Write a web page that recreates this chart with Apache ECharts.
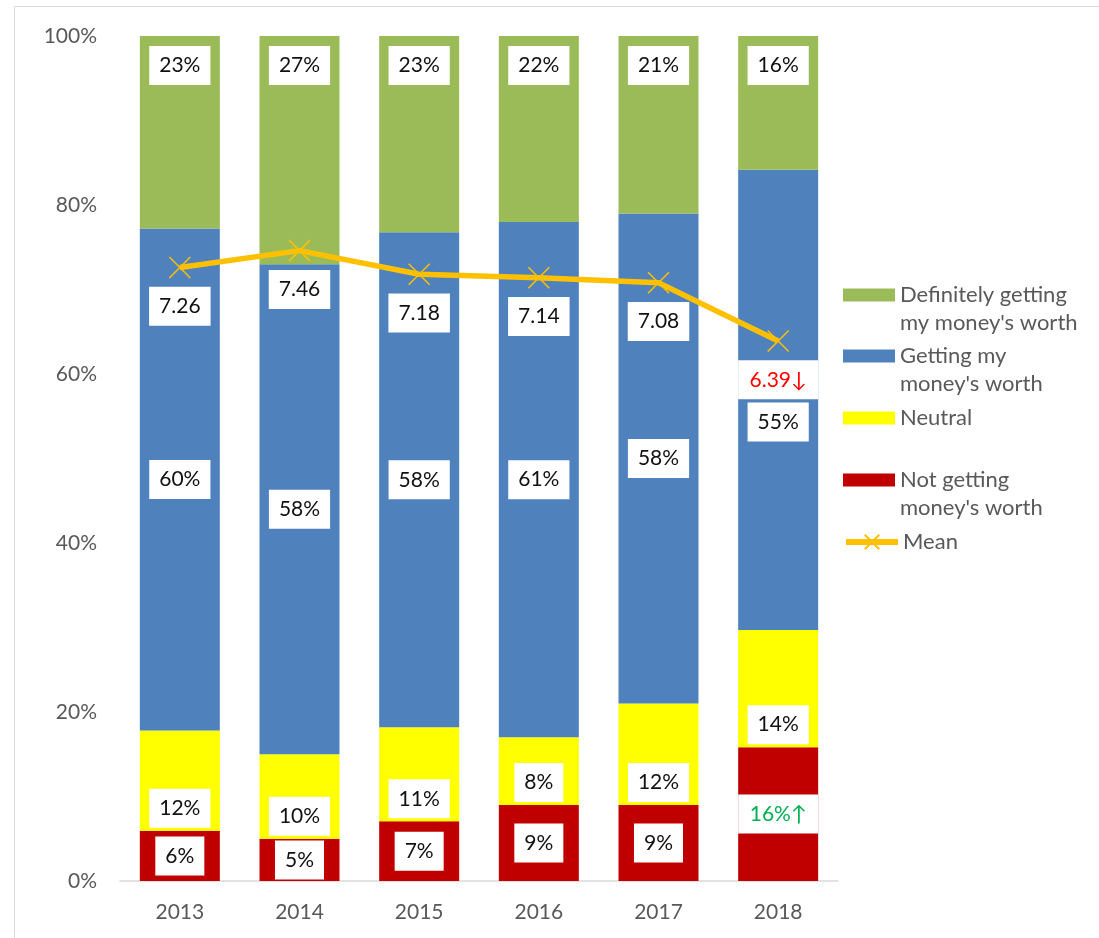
<!DOCTYPE html>
<html>
<head>
<meta charset="utf-8">
<script src="https://cdn.jsdelivr.net/npm/echarts@6/dist/echarts.min.js"></script>
<style>
  html, body { margin: 0; padding: 0; background: #ffffff; }
  #chart { width: 1099px; height: 938px; }
</style>
</head>
<body>
<div id="chart"></div>
<script>
// Survey years
const years = ['2013', '2014', '2015', '2016', '2017', '2018'];

// Share of respondents (%) per answer, as printed on the bars
const notGetting = [6, 5, 7, 9, 9, 16];
const neutral = [12, 10, 11, 8, 12, 14];
const getting = [60, 58, 58, 61, 58, 55];
const definitely = [23, 27, 23, 22, 21, 16];

// Mean value-for-money score (0-10 scale)
const meanScore = [7.26, 7.46, 7.18, 7.14, 7.08, 6.39];

// Significant change against the previous year: 1 = up, -1 = down, 0 = none
const meanChange = [0, 0, 0, 0, 0, -1];
const notGettingChange = [0, 0, 0, 0, 0, 1];

// Value-axis ticks
const yTickValues = [0, 20, 40, 60, 80, 100];

const names = {
  definitely: "Definitely getting my money's worth",
  getting: "Getting my money's worth",
  neutral: 'Neutral',
  notGetting: "Not getting money's worth",
  mean: 'Mean'
};
const legendText = {};
legendText[names.definitely] = "Definitely getting\nmy money's worth";
legendText[names.getting] = "Getting my\nmoney's worth";
legendText[names.neutral] = 'Neutral';
legendText[names.notGetting] = "Not getting\nmoney's worth";
legendText[names.mean] = 'Mean';

const FONT = 'Lato, "Open Sans", sans-serif';
const COLORS = {
  definitely: '#9BBB59',
  getting: '#4F81BD',
  neutral: '#FFFF00',
  notGetting: '#C00000',
  mean: '#FFC000'
};
const UP = '#00B050';
const DOWN = '#FF0000';
const ARROW_UP = '\u2191';
const ARROW_DOWN = '\u2193';

// Totals per year, so each column fills 100%
const totals = years.map((_, i) => notGetting[i] + neutral[i] + getting[i] + definitely[i]);
const toShare = (arr) => arr.map((v, i) => v / totals[i] * 100);

const BAR_WIDTH = 80;
const LABEL_PAD_X = 10;
const labelBox = {
  show: true,
  color: '#111111',
  backgroundColor: '#ffffff',
  padding: [7, LABEL_PAD_X, 7, LABEL_PAD_X],
  fontSize: 21,
  lineHeight: 25,
  fontFamily: FONT
};

function barSeries(name, raw, color, labelExtra, itemLabel) {
  return {
    name: name,
    type: 'bar',
    stack: 'share',
    barWidth: BAR_WIDTH,
    itemStyle: { color: color },
    label: Object.assign({}, labelBox, {
      formatter: (p) => {
        const i = p.dataIndex;
        let s = raw[i] + '%';
        if (name === names.notGetting && notGettingChange[i] > 0) s += ARROW_UP;
        if (name === names.notGetting && notGettingChange[i] < 0) s += ARROW_DOWN;
        return s;
      }
    }, labelExtra),
    emphasis: { disabled: true },
    data: toShare(raw).map((v, i) => {
      const lab = itemLabel ? itemLabel(i) : null;
      return lab ? { value: v, label: lab } : v;
    })
  };
}

// Highlighted labels fill the full column width
const flagLabel = (color) => ({
  color: color,
  width: BAR_WIDTH - 2 * LABEL_PAD_X,
  align: 'center'
});

const series = [
  barSeries(names.notGetting, notGetting, COLORS.notGetting, { position: 'inside' },
    (i) => notGettingChange[i] > 0 ? flagLabel(UP) : (notGettingChange[i] < 0 ? flagLabel(DOWN) : null)),
  barSeries(names.neutral, neutral, COLORS.neutral, { position: 'insideBottom', distance: 3 }),
  barSeries(names.getting, getting, COLORS.getting, { position: 'inside' },
    (i) => meanChange[i] !== 0 ? { offset: [0, 22] } : null),
  barSeries(names.definitely, definitely, COLORS.definitely, { position: 'insideTop', distance: 10 }),
  {
    name: names.mean,
    type: 'line',
    yAxisIndex: 1,
    z: 10,
    symbol: 'path://M0,0L10,10M10,0L0,10',
    symbolSize: 21,
    lineStyle: { color: COLORS.mean, width: 5.5 },
    itemStyle: { color: COLORS.mean, borderColor: COLORS.mean, borderWidth: 1.5 },
    emphasis: { disabled: true },
    label: Object.assign({}, labelBox, {
      position: 'bottom',
      distance: 8,
      formatter: (p) => {
        const i = p.dataIndex;
        let s = meanScore[i].toFixed(2);
        if (meanChange[i] > 0) s += ARROW_UP;
        if (meanChange[i] < 0) s += ARROW_DOWN;
        return s;
      }
    }),
    data: meanScore.map((v, i) => {
      if (meanChange[i] > 0) return { value: v, label: flagLabel(UP) };
      if (meanChange[i] < 0) return { value: v, label: flagLabel(DOWN) };
      return v;
    })
  }
];

// One legend block per entry. Wrapped entries get a blank leading line so the
// centred text block puts the first line level with the swatch.
const LINE_H = 27.5;
const legendRows = [
  { name: names.definitely, iconY: 295 },
  { name: names.getting, iconY: 356 },
  { name: names.neutral, iconY: 418 },
  { name: names.notGetting, iconY: 480 },
  { name: names.mean, iconY: 542 }
];
const legends = legendRows.map((row) => {
  const lines = legendText[row.name].split('\n').length;
  const twoLine = lines > 1;
  const isMean = row.name === names.mean;
  return {
    show: true,
    orient: 'vertical',
    left: 843,
    top: twoLine ? row.iconY - LINE_H * 1.5 : row.iconY - LINE_H / 2,
    padding: 0,
    itemWidth: 52,
    itemHeight: isMean ? 18 : 13,
    selectedMode: false,
    icon: isMean ? undefined : 'rect',
    lineStyle: isMean ? { width: 6 } : undefined,
    formatter: (n) => (twoLine ? '\n' : '') + legendText[n],
    textStyle: {
      color: '#595959',
      fontSize: 22,
      lineHeight: LINE_H,
      fontFamily: FONT
    },
    data: [row.name]
  };
});

const option = {
  animation: false,
  backgroundColor: '#ffffff',
  textStyle: { fontFamily: FONT },
  grid: { left: 120, right: 261, top: 36, bottom: 57, containLabel: false },
  legend: legends,
  graphic: [{
    type: 'rect',
    silent: true,
    z: -10,
    shape: { x: 14.5, y: 6.5, width: 1100, height: 950 },
    style: { fill: 'none', stroke: '#D9D9D9', lineWidth: 1 }
  }],
  xAxis: {
    type: 'category',
    data: years,
    axisTick: { show: false },
    axisLine: { show: true, lineStyle: { color: '#D9D9D9', width: 1.5 } },
    axisLabel: { color: '#595959', fontSize: 21, margin: 21, fontFamily: FONT }
  },
  yAxis: [
    {
      type: 'value',
      min: yTickValues[0],
      max: yTickValues[yTickValues.length - 1],
      interval: yTickValues[1] - yTickValues[0],
      axisLine: { show: false },
      axisTick: { show: false },
      splitLine: { show: false },
      axisLabel: { color: '#595959', fontSize: 21, margin: 23, formatter: (v) => v + '%', fontFamily: FONT }
    },
    {
      type: 'value',
      min: 0,
      max: 10,
      show: false,
      splitLine: { show: false }
    }
  ],
  series: series
};

const chart = echarts.init(document.getElementById('chart'), null, { renderer: 'canvas' });
chart.setOption(option);
</script>
</body>
</html>
